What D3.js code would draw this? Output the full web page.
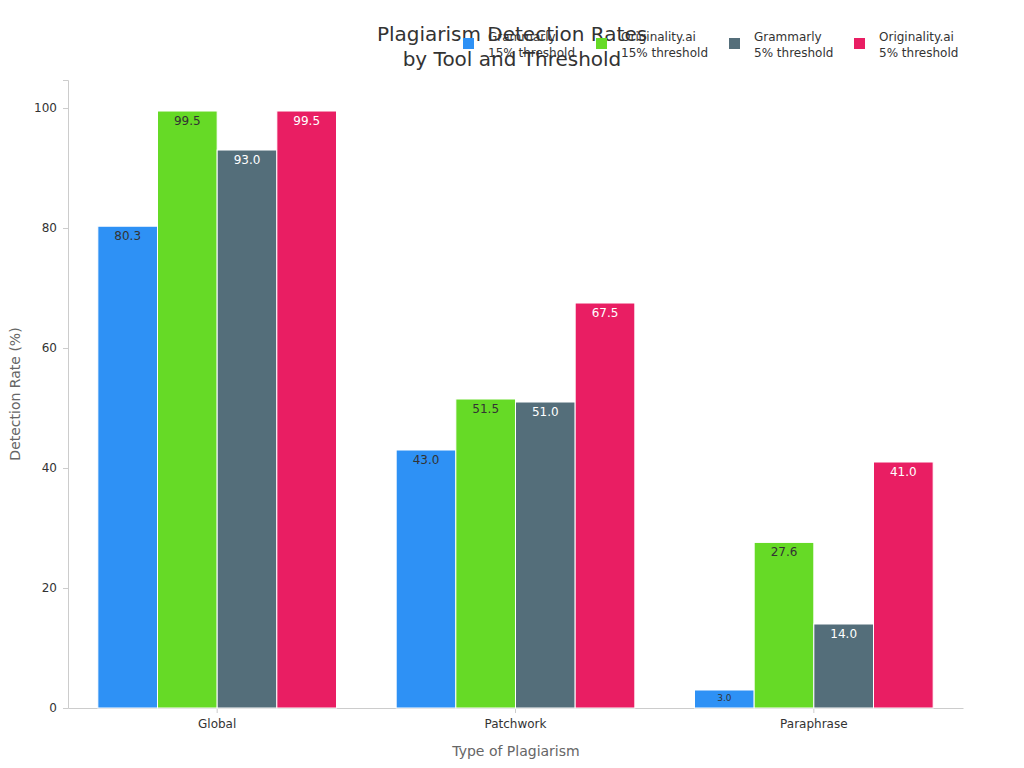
<!DOCTYPE html><html><head><meta charset="utf-8"><script src="https://cdn.jsdelivr.net/npm/d3@7"></script>
<style>body{margin:0;background:#fff}text{font-family:"DejaVu Sans",sans-serif}</style></head><body>
<svg id="c" width="1024" height="768"></svg>
<script>
const categories=["Global","Patchwork","Paraphrase"];
const seriesNames=["Grammarly\n15% threshold","Originality.ai\n15% threshold","Grammarly\n5% threshold","Originality.ai\n5% threshold"];
const seriesColors=["#2e91f5","#66da26","#546e7a","#e91e63"];
const labelColors=["#333","#333","#fff","#fff"];
const grammarly15=[80.3,43.0,3.0];
const originality15=[99.5,51.5,27.6];
const grammarly5=[93.0,51.0,14.0];
const originality5=[99.5,67.5,41.0];
const yTicks=[0,20,40,60,80,100];
const series=[grammarly15,originality15,grammarly5,originality5];
const svg=d3.select("#c");
const L=68,R=963,T=80,B=708;
const x0=d3.scaleBand().domain(categories).range([L,R]).paddingInner(0.2).paddingOuter(0.1);
const x1=d3.scaleBand().domain(d3.range(4)).range([0,x0.bandwidth()]);
const y=d3.scaleLinear().domain([0,104.67]).range([B,T]);
const ya=svg.append("g").attr("transform",`translate(${L},0)`).call(d3.axisLeft(y).tickValues(yTicks).tickSize(5).tickPadding(6));
ya.selectAll("text").attr("font-size",12).attr("fill","#333");
ya.selectAll("line,path").attr("stroke","#ccc");
const xa=svg.append("g").attr("transform",`translate(0,${B})`).call(d3.axisBottom(x0).tickSize(5).tickPadding(6).tickSizeOuter(0));
xa.selectAll("text").attr("font-size",12).attr("fill","#333");
xa.selectAll("line,path").attr("stroke","#ccc");
const g=svg.append("g");
categories.forEach((c,i)=>{series.forEach((s,j)=>{
 const bx=x0(c)+x1(j),w=x1.bandwidth(),v=s[i];
 g.append("rect").attr("x",bx).attr("y",y(v)).attr("width",w).attr("height",B-y(v)).attr("fill",seriesColors[j]).attr("stroke","#fff").attr("stroke-width",1);
 const small=v<5;
 g.append("text").attr("x",bx+w/2).attr("y",y(v)+(small?11:14)).attr("text-anchor","middle").attr("font-size",small?9:12).attr("fill",labelColors[j]).text(v.toFixed(1));
});});
svg.append("text").attr("x",20).attr("y",394).attr("transform","rotate(-90,20,394)").attr("text-anchor","middle").attr("font-size",14).attr("fill","#666").text("Detection Rate (%)");
svg.append("text").attr("x",516).attr("y",756).attr("text-anchor","middle").attr("font-size",14).attr("fill","#666").text("Type of Plagiarism");
const tt=svg.append("text").attr("text-anchor","middle").attr("font-size",20).attr("fill","#333");
tt.append("tspan").attr("x",512).attr("y",41).text("Plagiarism Detection Rates");
tt.append("tspan").attr("x",512).attr("y",66).text("by Tool and Threshold");
const lx=[463,596,729,854];
seriesNames.forEach((n,j)=>{
 svg.append("rect").attr("x",lx[j]).attr("y",38).attr("width",11).attr("height",11).attr("fill",seriesColors[j]);
 const t=svg.append("text").attr("font-size",12).attr("fill","#333");
 n.split("\n").forEach((p,k)=>t.append("tspan").attr("x",lx[j]+25).attr("y",41+k*16).text(p));
});
</script></body></html>
